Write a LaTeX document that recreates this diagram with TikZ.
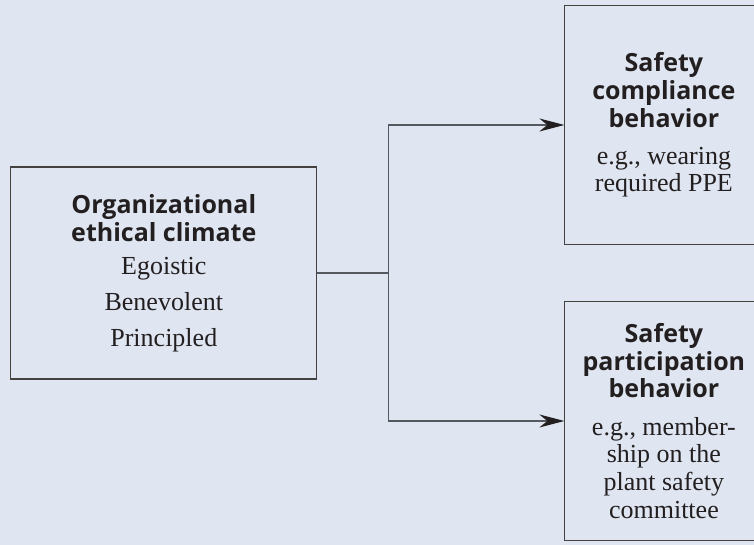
\documentclass[tikz,border=0pt]{standalone}
\usepackage{fontspec}
\setmainfont{Liberation Serif}
\newfontfamily\headfont{Open Sans}
\usetikzlibrary{arrows.meta,positioning}

\definecolor{panel}{HTML}{DFE6F1}
\definecolor{ink}{HTML}{231F20}
\definecolor{wire}{HTML}{55585E}

\newcommand{\hd}[1]{{\headfont\bfseries\fontsize{25}{27.7}\selectfont #1}}

\tikzset{
  factorbox/.style={draw=ink!85, line width=1.1pt, fill=panel, text=ink,
    align=center, inner sep=0pt, font=\fontsize{26}{27.7}\selectfont},
  outcome/.style={factorbox, minimum width=198pt, minimum height=239pt},
  link/.style={draw=wire, line width=1.1pt}
}

\begin{document}
\begin{tikzpicture}[x=1pt, y=1pt,
    >={Stealth[length=25pt,width=13pt,inset=8pt,color=ink]},
    node distance=247pt]
    \fill [panel] (0,0) rectangle (754,545);
    \useasboundingbox (0,0) rectangle (754,545);

    % Nodes {climate, comply, partic}
    \node [factorbox, minimum width=306pt, minimum height=212pt,
           font=\fontsize{26}{28}\selectfont]  (climate) at (163.8,272)
          {\hd{Organizational}\\ \hd{ethical climate}\\[5pt]
           Egoistic\\[8pt] Benevolent\\[8pt] Principled};
    \node [outcome]  (comply)  [right=of climate, yshift=148pt]
          {\hd{Safety}\\ \hd{compliance}\\ \hd{behavior}\\[9.5pt]
           e.g., wearing\\ required PPE};
    \node [outcome]  (partic)  [right=of climate, yshift=-148pt]
          {\hd{Safety}\\ \hd{participation}\\ \hd{behavior}\\[9.5pt]
           e.g., member-\\ ship on the\\ plant safety\\ committee};
    \coordinate [right=71pt of climate] (split);

    % Paths
    \path [link]      (climate) -- (split);
    \path [link, ->]  (split) |- (comply);
    \path [link, ->]  (split) |- (partic);
\end{tikzpicture}
\end{document}
